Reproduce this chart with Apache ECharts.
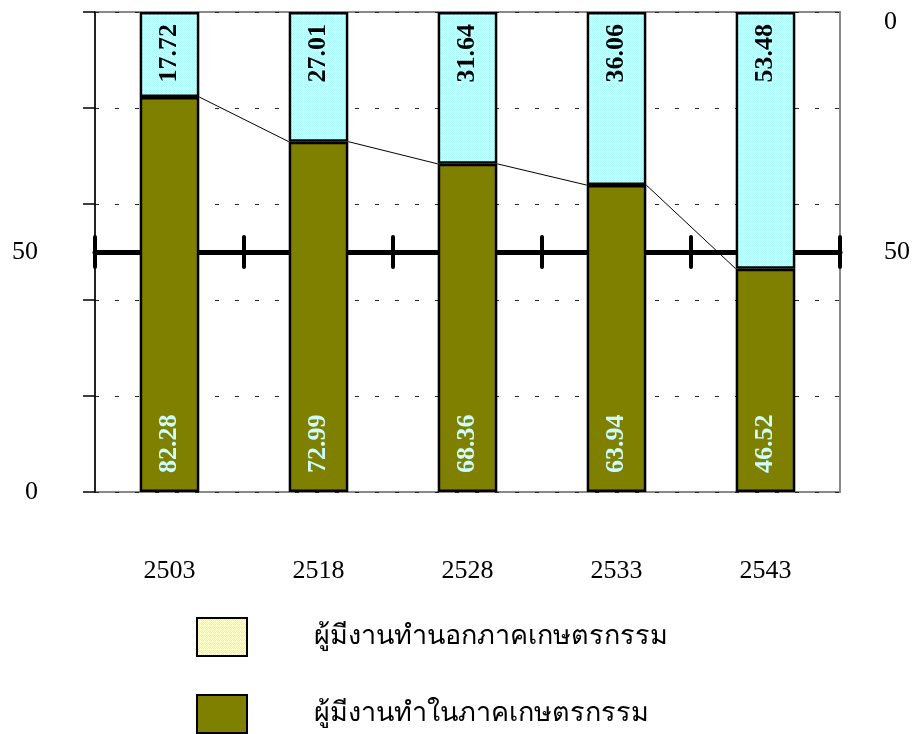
<!DOCTYPE html>
<html>
<head>
<meta charset="utf-8">
<script src="https://cdn.jsdelivr.net/npm/echarts@6/dist/echarts.min.js"></script>
<style>
  html, body { margin: 0; padding: 0; background: #fff; }
  #chart { width: 924px; height: 734px; }
</style>
</head>
<body>
<div id="chart"></div>
<script>
// data
const years = ['2503', '2518', '2528', '2533', '2543']
const inAgri = [82.28, 72.99, 68.36, 63.94, 46.52]
const outAgri = [17.72, 27.01, 31.64, 36.06, 53.48]
const leftLabels = [0, 50]
const rightLabels = [0, 50]
const tickValues = [0, 20, 40, 60, 80, 100]
const midValue = 50
const nameIn = 'ผู้มีงานทำในภาคเกษตรกรรม'
const nameOut = 'ผู้มีงานทำนอกภาคเกษตรกรรม'

const FONT = '"Liberation Serif", "Times New Roman", serif'

// cyan / light yellow texture for the non-agri part
function makePattern() {
  const c = document.createElement('canvas')
  c.width = 4
  c.height = 4
  const ctx = c.getContext('2d')
  ctx.fillStyle = '#ffffcc'
  ctx.fillRect(0, 0, 4, 4)
  ctx.fillStyle = '#aaffff'
  const px = [[0, 0], [2, 0], [1, 1], [3, 1], [0, 2], [2, 2], [1, 3]]
  px.forEach(p => ctx.fillRect(p[0], p[1], 1, 1))
  return c
}
const pattern = { image: makePattern(), repeat: 'repeat' }

// series lines between tops of the olive bars
const seriesLineData = inAgri.slice(0, -1).map((v, i) => [i, v, i + 1, inAgri[i + 1]])
// tick marks on the 50 line, one per category (left edge), last also gets the right edge
const midTickData = years.map((y, i) => [i, midValue])

const chart = echarts.init(document.getElementById('chart'))

const legendText = {
  fontFamily: FONT,
  fontSize: 27,
  color: '#000',
  padding: [0, 0, 0, 62]
}

chart.setOption({
  animation: false,
  textStyle: { fontFamily: FONT },
  grid: {
    left: 95,
    right: 84,
    top: 12,
    bottom: 242,
    show: true,
    borderColor: '#8a8a8a',
    borderWidth: 2
  },
  legend: [
    {
      left: 191,
      top: 612,
      icon: 'rect',
      itemWidth: 50,
      itemHeight: 38,
      data: [nameOut],
      itemStyle: { borderColor: '#000', borderWidth: 2 },
      textStyle: legendText
    },
    {
      left: 191,
      top: 689,
      icon: 'rect',
      itemWidth: 50,
      itemHeight: 38,
      data: [nameIn],
      itemStyle: { borderColor: '#000', borderWidth: 2 },
      textStyle: legendText
    }
  ],
  xAxis: [
    {
      type: 'category',
      data: years,
      axisLine: { show: false },
      axisTick: { show: false },
      axisLabel: { fontSize: 26, color: '#000', margin: 66, fontFamily: FONT }
    },
    {
      // thick 50 line
      type: 'category',
      data: years,
      position: 'bottom',
      offset: -240,
      axisLine: { lineStyle: { color: '#000', width: 5 } },
      axisTick: { show: false },
      axisLabel: { show: false }
    }
  ],
  yAxis: [
    {
      type: 'value',
      min: 0,
      max: 100,
      interval: 20,
      axisLine: { show: true, lineStyle: { color: '#000', width: 1.5 } },
      axisTick: { show: true, length: 12, customValues: tickValues, lineStyle: { color: '#000', width: 1.5 } },
      axisLabel: {
        customValues: leftLabels,
        fontSize: 26,
        color: '#000',
        margin: 57,
        fontFamily: FONT
      },
      splitLine: {
        show: true,
        lineStyle: { color: '#222', width: 1, type: [4, 16] }
      }
    },
    {
      type: 'value',
      min: 0,
      max: 100,
      inverse: true,
      position: 'right',
      axisLine: { show: false },
      axisTick: { show: false },
      splitLine: { show: false },
      axisLabel: {
        customValues: rightLabels,
        fontSize: 26,
        color: '#000',
        margin: 44,
        align: 'left',
        fontFamily: FONT,
        formatter: v => (v === 0 ? '{t|0}' : '{n|' + v + '}'),
        rich: {
          t: { fontSize: 26, fontFamily: FONT, color: '#000', padding: [20, 0, 0, 0] },
          n: { fontSize: 26, fontFamily: FONT, color: '#000' }
        }
      }
    }
  ],
  series: [
    {
      name: nameIn,
      type: 'bar',
      stack: 'total',
      barWidth: '40%',
      data: inAgri,
      itemStyle: { color: '#808000', borderColor: '#000', borderWidth: 2.5 },
      label: {
        show: true,
        position: 'insideBottom',
        distance: 19,
        rotate: 90,
        align: 'left',
        verticalAlign: 'middle',
        color: '#ccffff',
        fontWeight: 'bold',
        fontSize: 26,
        fontFamily: FONT,
        formatter: p => p.value.toFixed(2)
      },
      z: 3
    },
    {
      name: nameOut,
      type: 'bar',
      stack: 'total',
      barWidth: '40%',
      data: outAgri,
      itemStyle: { color: pattern, borderColor: '#000', borderWidth: 2.5 },
      label: {
        show: true,
        position: 'insideTop',
        distance: 12,
        rotate: 90,
        align: 'right',
        verticalAlign: 'middle',
        color: '#000',
        fontWeight: 'bold',
        fontSize: 26,
        fontFamily: FONT,
        formatter: p => p.value.toFixed(2)
      },
      z: 3
    },
    {
      type: 'custom',
      xAxisIndex: 0,
      yAxisIndex: 0,
      silent: true,
      encode: { x: [0, 2], y: [1, 3] },
      data: seriesLineData,
      renderItem(params, api) {
        const p0 = api.coord([api.value(0), api.value(1)])
        const p1 = api.coord([api.value(2), api.value(3)])
        const half = api.size([1, 0])[0] * 0.4 / 2
        return {
          type: 'line',
          shape: { x1: p0[0] + half, y1: p0[1], x2: p1[0] - half, y2: p1[1] },
          style: { stroke: '#000', lineWidth: 1 }
        }
      },
      z: 2
    },
    {
      type: 'custom',
      xAxisIndex: 0,
      yAxisIndex: 0,
      silent: true,
      encode: { x: 0, y: 1 },
      data: midTickData,
      renderItem(params, api) {
        const p = api.coord([api.value(0), api.value(1)])
        const half = api.size([1, 0])[0] / 2
        const xs = [p[0] - half]
        if (params.dataIndex === years.length - 1) xs.push(p[0] + half)
        return {
          type: 'group',
          children: xs.map(x => ({
            type: 'line',
            shape: { x1: x, y1: p[1] - 15, x2: x, y2: p[1] + 15 },
            style: { stroke: '#000', lineWidth: 4, lineCap: 'round' }
          }))
        }
      },
      z: 5
    }
  ]
})
</script>
</body>
</html>
